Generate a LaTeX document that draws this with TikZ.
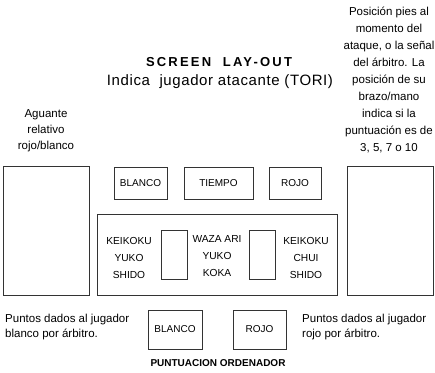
\documentclass[tikz,border=0pt]{standalone}
\usepackage{fontspec}
\setmainfont{Liberation Sans}
\newfontfamily\titulofont[LetterSpace=17]{Liberation Sans}
\newfontfamily\subtitulofont[LetterSpace=4]{Liberation Sans}
\usepackage{tikz}
\usetikzlibrary{positioning}
\tikzstyle{caja}    =[draw, line width=0.7pt, draw=black!80,
                     inner sep=0pt, outer sep=0pt,
                     font=\fontsize{10}{12}\selectfont]
\tikzstyle{columna} =[align=center, inner sep=0pt,
                     font=\fontsize{10.2}{17}\selectfont]
\tikzstyle{nota}    =[align=center, inner sep=0pt,
                     font=\fontsize{11.5}{17}\selectfont]

\begin{document}
\begin{tikzpicture}[x=1pt,y=-1pt]
    \useasboundingbox (0,0) rectangle (435,372);

        \begin{scope}[]
            \draw (219,62) node (titulo) [inner sep=0pt] {\titulofont\bfseries\fontsize{13}{15}\selectfont SCREEN\ \ LAY-OUT};
            \draw (220,82) node (atacante) [inner sep=0pt] {\subtitulofont\fontsize{15}{17}\selectfont Indica\ \ jugador atacante (TORI)};
            \draw (46,131) node (aguante) [nota,font=\fontsize{11.5}{16}\selectfont] {Aguante\\relativo\\rojo/blanco};
            \draw (389,80) node (posicion) [nota] {Posición pies al\\momento del\\ataque, o la señal\\del árbitro. La\\posición de su\\brazo/mano\\indica si la\\puntuación es de\\3, 5, 7 o 10};
        \end{scope}

        \begin{scope}[]
            \draw (46,230.5) node (aguanteCaja) [caja,minimum width=86pt,minimum height=129pt] {};
            \draw (390,230.5) node (posicionCaja) [caja,minimum width=86pt,minimum height=129pt] {};
            \draw (140.5,183) node (blancoSup) [caja,minimum width=53pt,minimum height=32pt] {BLANCO};
            \draw (218.5,183) node (tiempo) [caja,minimum width=69pt,minimum height=32pt] {TIEMPO};
            \draw (295,183) node (rojoSup) [caja,minimum width=52pt,minimum height=32pt] {ROJO};
            \draw (217,254.5) node (marcador) [caja,minimum width=240pt,minimum height=81pt] {};
            \draw (174,254.5) node (ventanaBlanco) [caja,minimum width=26pt,minimum height=49pt] {};
            \draw (262,254.5) node (ventanaRojo) [caja,minimum width=26pt,minimum height=49pt] {};
            \draw (129,258) node (castigoBlanco) [columna] {KEIKOKU\\YUKO\\SHIDO};
            \draw (217,256) node (puntos) [columna] {WAZA ARI\\YUKO\\KOKA};
            \draw (306,258) node (castigoRojo) [columna] {KEIKOKU\\CHUI\\SHIDO};
        \end{scope}

        \begin{scope}[]
            \draw (175,329.5) node (blancoInf) [caja,minimum width=54pt,minimum height=39pt] {BLANCO};
            \draw (259.5,329.5) node (rojoInf) [caja,minimum width=53pt,minimum height=39pt] {ROJO};
            \draw (5,327) node (arbitroBlanco) [nota,align=left,anchor=west,font=\fontsize{11.5}{15}\selectfont] {Puntos dados al jugador\\blanco por árbitro.};
            \draw (302,327) node (arbitroRojo) [nota,align=left,anchor=west,font=\fontsize{11.5}{15}\selectfont] {Puntos dados al jugador\\rojo por árbitro.};
            \draw (218,363) node (ordenador) [inner sep=0pt,font=\bfseries\fontsize{10}{12}\selectfont] {PUNTUACION ORDENADOR};
        \end{scope}

    \end{tikzpicture}
\end{document}
